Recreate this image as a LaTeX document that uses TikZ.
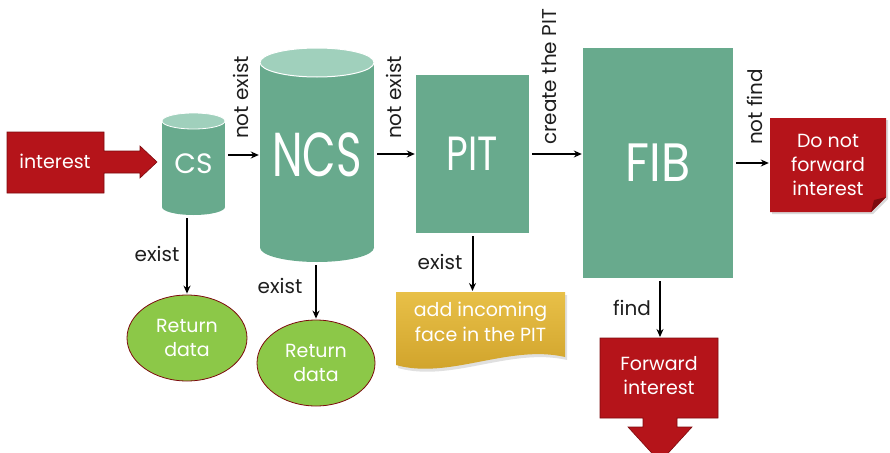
\documentclass[tikz,border=0pt]{standalone}
\usepackage{fontspec}
\setmainfont{Poppins}
\usetikzlibrary{arrows.meta,shapes.geometric}

\definecolor{boxgreen}{RGB}{104,170,141}
\definecolor{toplight}{RGB}{160,208,188}
\definecolor{flowred}{RGB}{181,20,26}
\definecolor{edgered}{RGB}{125,10,14}
\definecolor{lime}{RGB}{140,200,72}
\definecolor{goldtop}{RGB}{232,192,72}
\definecolor{goldbot}{RGB}{206,160,40}
\definecolor{labelgray}{RGB}{30,30,30}

\newcommand{\squeeze}[2]{\scalebox{#1}[1]{#2}}

\begin{document}
\begin{tikzpicture}[x=1pt,y=-1pt,
  flow/.style={-{Stealth[length=8pt,width=7pt]}, line width=2pt, black,
               shorten <=3pt, shorten >=1pt},
  lbl/.style={font=\fontsize{20}{22}\selectfont, text=labelgray, inner sep=1pt},
  vlbl/.style={lbl, rotate=90, anchor=west},
  store/.style={inner sep=0pt, text=white},
  box/.style={store, fill=boxgreen},
  whitetxt/.style={text=white, align=center, font=\fontsize{19}{24}\selectfont},
  result/.style={ellipse, fill=lime, draw=edgered, line width=0.8pt, inner sep=0pt,
                 whitetxt}
]
\useasboundingbox (0,0) rectangle (890,452);
\clip (0,0) rectangle (890,452);

% incoming interest arrow
\fill[flowred, draw=edgered, line width=0.6pt]
  (7,132) -- (104,132) -- (104,151) -- (140,151) -- (140,146) -- (157,162)
  -- (140,178) -- (140,173) -- (104,173) -- (104,193) -- (7,193) -- cycle;
\node[whitetxt] (in) at (55,161) {interest};

% CS cylinder
\fill[boxgreen] (162,121) rectangle (225,207);
\fill[boxgreen] (193.5,207) ellipse [x radius=31.5pt, y radius=8pt];
\filldraw[fill=toplight, draw=white, line width=0.8pt]
  (193.5,121) ellipse [x radius=31.5pt, y radius=8pt];
\node[store, minimum width=63pt, minimum height=102pt,
      font=\fontsize{28}{30}\selectfont] (cs) at (193.5,164) {\raisebox{-3pt}{CS}};

% NCS cylinder
\fill[boxgreen] (260,62.5) rectangle (374,247.5);
\fill[boxgreen] (317,247.5) ellipse [x radius=57pt, y radius=14.5pt];
\filldraw[fill=toplight, draw=white, line width=1pt]
  (317,62.5) ellipse [x radius=57pt, y radius=14.5pt];
\node[store, minimum width=114pt, minimum height=214pt,
      font=\fontsize{62}{64}\selectfont] (ncs) at (317,155)
      {\raisebox{-14pt}{\squeeze{0.7}{NCS}}};

% PIT and FIB tables
\node[box, minimum width=113pt, minimum height=158pt,
      font=\fontsize{48}{50}\selectfont] (pit) at (472.5,154) {\squeeze{0.78}{PIT}};
\node[box, minimum width=150pt, minimum height=230pt,
      font=\fontsize{54}{56}\selectfont] (fib) at (658,163) {\squeeze{0.88}{FIB}};

% outcomes
\node[result, minimum width=120pt, minimum height=86pt] (rd1) at (187,338) {Return\\data};
\node[result, minimum width=118pt, minimum height=86pt] (rd2) at (316,363) {Return\\data};

\fill[black!12] (398,295) -- (567,295) -- (567,360)
  .. controls (511,347) and (451,383) .. (398,368) -- cycle;
\shade[top color=goldtop, bottom color=goldbot]
  (396,292) -- (565,292) -- (565,357)
  .. controls (509,344) and (449,380) .. (396,365) -- cycle;
\node[whitetxt, font=\fontsize{19}{25}\selectfont] (add) at (480.5,322)
  {add incoming\\face in the PIT};
\coordinate (addtop) at (480.5,292);

% do not forward note with folded corner
\fill[black!15] (772,120) -- (888,120) -- (888,199) -- (873,214) -- (772,214) -- cycle;
\fill[flowred] (770,118) -- (886,118) -- (886,197) -- (871,212) -- (770,212) -- cycle;
\fill[edgered] (871,212) -- (874,200) -- (886,197) -- cycle;
\node[whitetxt, minimum width=116pt, minimum height=94pt] (nf) at (828,165)
  {Do not\\forward\\interest};

% forward interest down arrow
\fill[flowred, draw=edgered, line width=0.6pt]
  (600,338) -- (718,338) -- (718,418) -- (677,418) -- (677,427) -- (692,427)
  -- (660,462) -- (628,427) -- (643,427) -- (643,418) -- (600,418) -- cycle;
\node[whitetxt] (fw) at (659,376) {Forward\\interest};
\coordinate (fwtop) at (660,338);

% horizontal flow
\draw[flow] (cs.east |- ncs.west) -- (ncs.west);
\draw[flow] (ncs.east |- pit.west) -- (pit.west);
\draw[flow] (pit.east) -- (pit.east -| fib.west);
\draw[flow] (fib.east) -- (fib.east -| nf.west);
\node[vlbl] at (241,140) {not exist};
\node[vlbl] at (394,140) {not exist};
\node[vlbl] at (549,146) {create the PIT};
\node[vlbl] at (755,146) {not find};

% downward flow
\draw[flow] (rd1.north |- cs.south) -- (rd1.north);
\draw[flow] (rd2.north |- ncs.south) -- (rd2.north);
\draw[flow] (pit.south) -- (pit.south |- addtop);
\draw[flow] (fwtop |- fib.south) -- (fwtop);
\node[lbl] at (157,254) {exist};
\node[lbl] at (280,286) {exist};
\node[lbl] at (440,262) {exist};
\node[lbl] at (632,308) {find};

\end{tikzpicture}
\end{document}
